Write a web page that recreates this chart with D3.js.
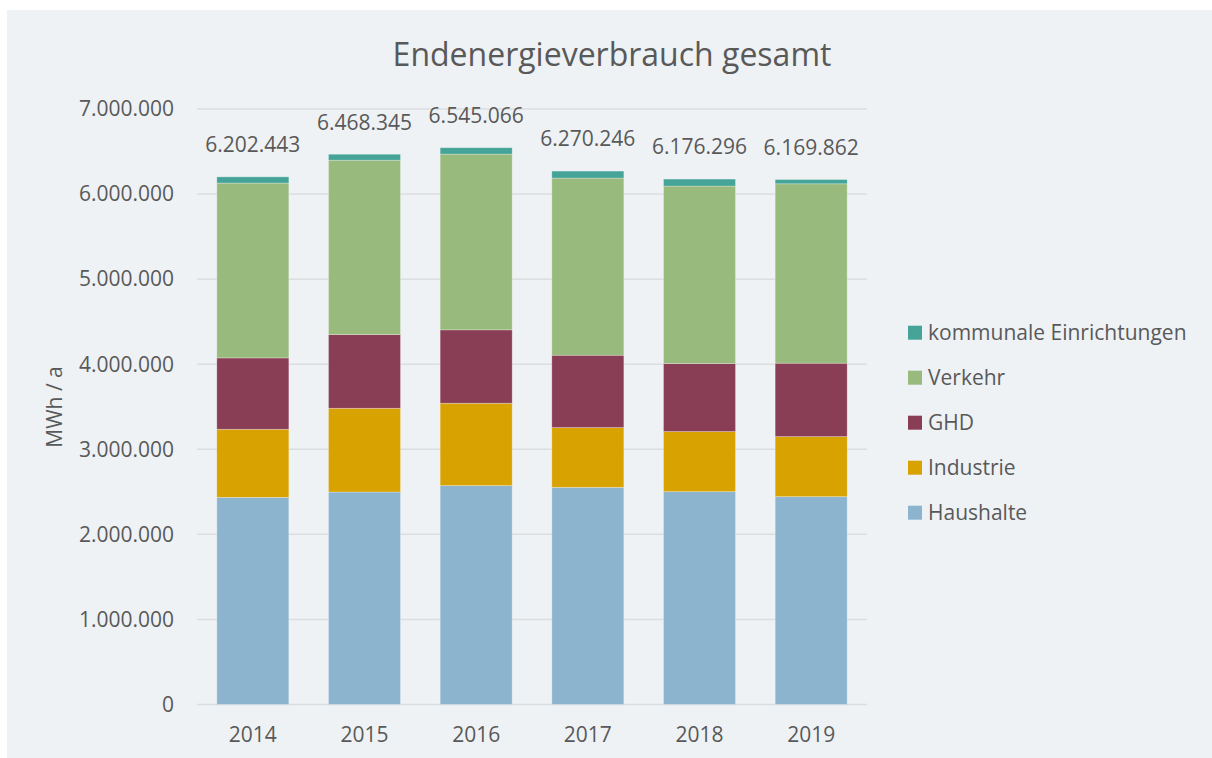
<!DOCTYPE html>
<html>
<head>
<meta charset="utf-8">
<script src="https://cdn.jsdelivr.net/npm/d3@7"></script>
<style>
  body { margin: 0; background: #fff; }
  svg { display: block; font-family: "Open Sans", sans-serif; }
</style>
</head>
<body>
<svg id="chart" width="1212" height="758"></svg>
<script>
// data (MWh / a)
const years = ["2014", "2015", "2016", "2017", "2018", "2019"];
const haushalte = [2435000, 2498000, 2573000, 2553000, 2502000, 2443000];
const industrie = [800000, 984000, 968000, 702000, 706000, 706000];
const ghd = [839000, 867000, 863000, 851000, 800000, 863000];
const verkehr = [2055443, 2049345, 2066066, 2082246, 2086296, 2108862];
const kommunal = [73000, 70000, 75000, 82000, 82000, 50000];
const totals = [6202443, 6468345, 6545066, 6270246, 6176296, 6169862];
const yTicks = [0, 1000000, 2000000, 3000000, 4000000, 5000000, 6000000, 7000000];

const seriesNames = ["Haushalte", "Industrie", "GHD", "Verkehr", "kommunale Einrichtungen"];
const seriesValues = [haushalte, industrie, ghd, verkehr, kommunal];
const colors = ["#8DB4CF", "#D8A200", "#8A3E55", "#98BA7C", "#45A497"];

const svg = d3.select("#chart");
const textColor = "#595959";

// background panel
svg.append("rect")
    .attr("x", 7).attr("y", 10)
    .attr("width", 1205).attr("height", 748)
    .attr("fill", "#EEF2F5");

const rows = years.map((y, i) => {
    const r = { year: y };
    seriesNames.forEach((s, j) => r[s] = seriesValues[j][i]);
    return r;
});
const stacked = d3.stack().keys(seriesNames)(rows);

const x = d3.scaleBand()
    .domain(years)
    .range([197, 867])
    .paddingInner(0.355)
    .paddingOuter(0.1775);

const y = d3.scaleLinear()
    .domain([0, 7000000])
    .range([704.5, 109]);

const fmt = d3.formatLocale({ decimal: ",", thousands: ".", grouping: [3], currency: ["", "€"] }).format(",d");

// gridlines
svg.append("g")
    .selectAll("line")
    .data(yTicks)
    .join("line")
    .attr("x1", 197).attr("x2", 867)
    .attr("y1", d => y(d)).attr("y2", d => y(d))
    .attr("stroke", "#DCDDDF")
    .attr("stroke-width", 1.5);

// tick labels
svg.append("g")
    .selectAll("text")
    .data(yTicks)
    .join("text")
    .attr("x", 174)
    .attr("y", d => y(d))
    .attr("dy", "0.35em")
    .attr("text-anchor", "end")
    .attr("font-size", 21)
    .attr("fill", textColor)
    .text(d => fmt(d));

// bars
svg.append("g")
    .selectAll("g")
    .data(stacked)
    .join("g")
    .attr("fill", (d, i) => colors[i])
    .selectAll("rect")
    .data(d => d)
    .join("rect")
    .attr("x", d => x(d.data.year))
    .attr("width", x.bandwidth())
    .attr("y", d => y(d[1]))
    .attr("height", d => y(d[0]) - y(d[1]))
    .attr("stroke", "#ffffff")
    .attr("stroke-opacity", 0.35)
    .attr("stroke-width", 0.8);

// total labels
svg.append("g")
    .selectAll("text")
    .data(years)
    .join("text")
    .attr("x", d => x(d) + x.bandwidth() / 2)
    .attr("y", (d, i) => y(totals[i]) - 32)
    .attr("dy", "0.35em")
    .attr("text-anchor", "middle")
    .attr("font-size", 21)
    .attr("fill", textColor)
    .text((d, i) => fmt(totals[i]));

// x labels
svg.append("g")
    .selectAll("text")
    .data(years)
    .join("text")
    .attr("x", d => x(d) + x.bandwidth() / 2)
    .attr("y", 735)
    .attr("dy", "0.35em")
    .attr("text-anchor", "middle")
    .attr("font-size", 21)
    .attr("fill", textColor)
    .text(d => d);

// axis title
svg.append("text")
    .attr("transform", "translate(55,407) rotate(-90)")
    .attr("dy", "0.35em")
    .attr("text-anchor", "middle")
    .attr("font-size", 21)
    .attr("fill", textColor)
    .text("MWh / a");

// chart title
svg.append("text")
    .attr("x", 612)
    .attr("y", 55)
    .attr("dy", "0.35em")
    .attr("text-anchor", "middle")
    .attr("font-size", 32)
    .attr("fill", textColor)
    .text("Endenergieverbrauch gesamt");

// legend (reverse order, top = kommunale)
const legendItems = seriesNames.map((s, i) => ({ name: s, color: colors[i] })).reverse();
const legend = svg.append("g")
    .selectAll("g")
    .data(legendItems)
    .join("g")
    .attr("transform", (d, i) => `translate(908,${332.7 + i * 45})`);

legend.append("rect")
    .attr("x", 0).attr("y", -7)
    .attr("width", 14).attr("height", 14)
    .attr("fill", d => d.color);

legend.append("text")
    .attr("x", 20)
    .attr("dy", "0.35em")
    .attr("font-size", 21)
    .attr("fill", textColor)
    .text(d => d.name);
</script>
</body>
</html>
